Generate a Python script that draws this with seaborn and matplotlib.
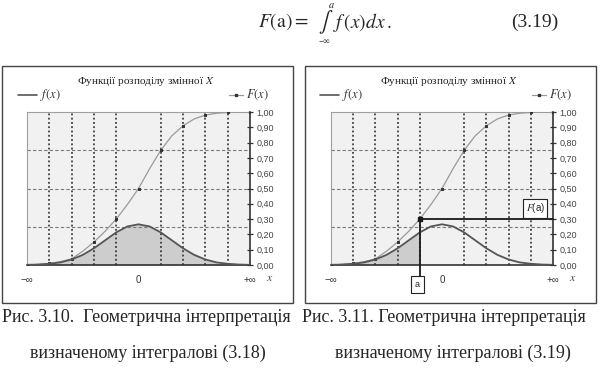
import numpy as np
import matplotlib.pyplot as plt
import seaborn as sns
from matplotlib.lines import Line2D
from matplotlib.patches import Rectangle

# values (x from -inf..+inf mapped to -5..5)
x_vals = [-5.0, -4.5, -4.0, -3.5, -3.0, -2.5, -2.0, -1.5, -1.0, -0.5, 0.0,
          0.5, 1.0, 1.5, 2.0, 2.5, 3.0, 3.5, 4.0, 4.5, 5.0]
f_vals = [0.001, 0.003, 0.008, 0.017, 0.036, 0.066, 0.109, 0.161, 0.213, 0.252, 0.266,
          0.252, 0.213, 0.161, 0.109, 0.066, 0.036, 0.017, 0.008, 0.003, 0.001]
F_vals = [0.000, 0.004, 0.010, 0.022, 0.040, 0.090, 0.150, 0.220, 0.300, 0.395, 0.500,
          0.630, 0.750, 0.845, 0.910, 0.955, 0.980, 0.992, 0.997, 0.999, 1.000]

y_ticks = [0.0, 0.1, 0.2, 0.3, 0.4, 0.5, 0.6, 0.7, 0.8, 0.9, 1.0]
y_tick_labels = ["0,00", "0,10", "0,20", "0,30", "0,40", "0,50",
                 "0,60", "0,70", "0,80", "0,90", "1,00"]
x_tick_pos = [-5, 0, 5]
x_tick_labels = ["\u2212\u221e", "0", "+\u221e"]
grid_x = [-4, -3, -2, -1, 1, 2, 3, 4]
grid_y = [0.25, 0.5, 0.75]

a_value = -1.0
Fa_value = 0.30

sns.set_style("white")
plt.rcParams["font.family"] = ["Liberation Serif", "DejaVu Serif"]
plt.rcParams["mathtext.fontset"] = "stix"
SANS = ["Liberation Sans", "DejaVu Sans"]

W, H = 600, 371
fig = plt.figure(figsize=(6.0, 3.71), dpi=100)


def px(x, y):
    return x / W, 1 - y / H


def draw_panel(ax, shade_to, with_a):
    x = np.array(x_vals)
    f = np.array(f_vals)
    ax.set_facecolor("#f1f1f1")
    mask = x <= shade_to
    ax.fill_between(x[mask], f[mask], color="#cdcdcd", lw=0)
    for gx in grid_x:
        ax.axvline(gx, color="#222222", ls=(0, (1.2, 1.6)), lw=1.1, zorder=1)
    for gy in grid_y:
        ax.axhline(gy, color="#7a7a7a", ls=(0, (3, 2)), lw=0.8, zorder=1)
    sns.lineplot(x=x_vals, y=F_vals, ax=ax, color="#9a9a9a", lw=0.9,
                 marker="s", markersize=1.7, markevery=2,
                 markerfacecolor="#333333", markeredgecolor="#333333", zorder=3)
    sns.lineplot(x=x_vals, y=f_vals, ax=ax, color="#555555", lw=1.3, zorder=4)

    ax.set_xlim(-5, 5)
    ax.set_ylim(0, 1)
    ax.yaxis.tick_right()
    ax.set_yticks(y_ticks)
    ax.set_yticklabels(y_tick_labels, fontsize=6.5, color="#444444", family=SANS)
    ax.tick_params(axis="y", direction="inout", length=5, width=0.9,
                   color="#333333", pad=2, right=True)
    ax.set_xticks(x_tick_pos)
    ax.set_xticklabels(x_tick_labels, fontsize=7, color="#333333", family=SANS)
    ax.tick_params(axis="x", length=0, pad=7)
    ax.set_xlabel("")
    ax.set_ylabel("")
    for side in ["top", "left"]:
        ax.spines[side].set_color("#a0a0a0")
        ax.spines[side].set_linewidth(0.8)
    for side in ["right", "bottom"]:
        ax.spines[side].set_color("#333333")
        ax.spines[side].set_linewidth(1.2)
    ax.text(1.09, -0.085, r"$x$", transform=ax.transAxes, fontsize=8.5,
            color="#444444", ha="center", va="center")

    if with_a:
        ax.plot([a_value, a_value], [-0.085, Fa_value], color="#1a1a1a",
                lw=1.3, clip_on=False, zorder=6)
        ax.plot([a_value, 5], [Fa_value, Fa_value], color="#1a1a1a",
                lw=1.3, clip_on=False, zorder=6)
        ax.plot([a_value], [Fa_value], marker="s", ms=3, color="#1a1a1a", zorder=7)
        ax.text(a_value - 0.1, -0.125, "a", ha="center", va="center",
                fontsize=6.5, family=SANS,
                bbox=dict(boxstyle="square,pad=0.45", fc="white", ec="#222222", lw=0.8),
                clip_on=False, zorder=8)
        ax.text(4.2, 0.37, r"$\mathit{F}$(a)", ha="center", va="center",
                fontsize=7, family=SANS,
                bbox=dict(boxstyle="square,pad=0.25", fc="white", ec="#222222", lw=0.8),
                zorder=8)


def legend_marks(x0, xr, y):
    fig.add_artist(Line2D([px(x0, 0)[0], px(x0 + 19, 0)[0]], [px(0, y)[1]] * 2,
                          color="#555555", lw=1.2))
    fig.text(*px(x0 + 22, y), r"$f(x)$", fontsize=9, va="center", color="#333333")
    fig.add_artist(Line2D([px(xr, 0)[0], px(xr + 7, 0)[0], px(xr + 14, 0)[0]],
                          [px(0, y)[1]] * 3,
                          color="#9a9a9a", lw=0.9, marker="s", markersize=1.8,
                          markevery=[1], markerfacecolor="#333333",
                          markeredgecolor="#333333"))
    fig.text(*px(xr + 17, y), r"$F(x)$", fontsize=9, va="center", color="#333333")


# panel frames
for x0, x1 in [(2, 293), (305, 596)]:
    l, t = px(x0, 66)
    r, b = px(x1, 303)
    fig.add_artist(Rectangle((l, b), r - l, t - b, transform=fig.transFigure,
                             fill=False, ec="#444444", lw=1.0))

ax1 = fig.add_axes([27 / W, 1 - 265 / H, 223 / W, 153 / H])
ax2 = fig.add_axes([331 / W, 1 - 265 / H, 222 / W, 153 / H])
draw_panel(ax1, 5, False)
draw_panel(ax2, a_value, True)

title = "\u0424\u0443\u043d\u043a\u0446\u0456\u0457 \u0440\u043e\u0437\u043f\u043e\u0434\u0456\u043b\u0443 \u0437\u043c\u0456\u043d\u043d\u043e\u0457 $X$"
fig.text(*px(146, 82), title, fontsize=8, ha="center", va="center", color="#222222")
fig.text(*px(449, 82), title, fontsize=8, ha="center", va="center", color="#222222")
legend_marks(18, 229, 95)
legend_marks(320, 532, 95)

# formula above the charts
fig.text(*px(258, 22), r"$F(\mathrm{a}) =$", fontsize=14, va="center", ha="left")
fig.text(*px(326, 22), r"$\int$", fontsize=15, va="center", ha="center")
fig.text(*px(333, 22), r"$f\,(x)dx\,.$", fontsize=14, va="center", ha="left")
fig.text(*px(331, 5), r"$a$", fontsize=7.5, ha="center", va="center")
fig.text(*px(324, 42), "\u2212\u221e", fontsize=6.5, ha="center", va="center")
fig.text(*px(511, 22), "(3.19)", fontsize=14, va="center", ha="left")

# captions
cap_kw = dict(fontsize=13, va="center")
fig.text(*px(2, 318), "\u0420\u0438\u0441. 3.10.  \u0413\u0435\u043e\u043c\u0435\u0442\u0440\u0438\u0447\u043d\u0430 \u0456\u043d\u0442\u0435\u0440\u043f\u0440\u0435\u0442\u0430\u0446\u0456\u044f",
         ha="left", **cap_kw)
fig.text(*px(148, 353), "\u0432\u0438\u0437\u043d\u0430\u0447\u0435\u043d\u043e\u043c\u0443 \u0456\u043d\u0442\u0435\u0433\u0440\u0430\u043b\u043e\u0432\u0456 (3.18)",
         ha="center", **cap_kw)
fig.text(*px(302, 318), "\u0420\u0438\u0441. 3.11. \u0413\u0435\u043e\u043c\u0435\u0442\u0440\u0438\u0447\u043d\u0430 \u0456\u043d\u0442\u0435\u0440\u043f\u0440\u0435\u0442\u0430\u0446\u0456\u044f",
         ha="left", **cap_kw)
fig.text(*px(453, 353), "\u0432\u0438\u0437\u043d\u0430\u0447\u0435\u043d\u043e\u043c\u0443 \u0456\u043d\u0442\u0435\u0433\u0440\u0430\u043b\u043e\u0432\u0456 (3.19)",
         ha="center", **cap_kw)

fig.savefig("out.png", dpi=100)
